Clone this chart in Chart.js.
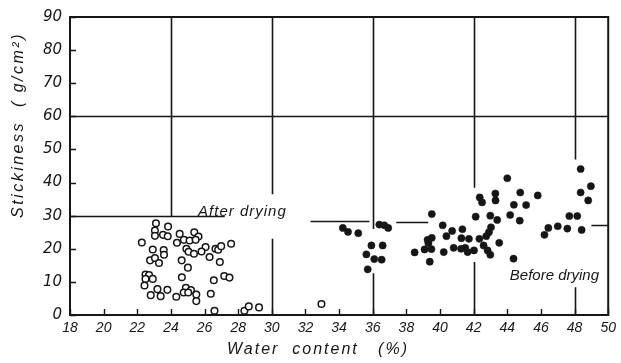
<!DOCTYPE html>
<html>
<head>
<meta charset="utf-8">
<script src="https://cdn.jsdelivr.net/npm/chart.js@4"></script>
<style>
html,body{margin:0;padding:0;background:#fff;}
#wrap{width:621px;height:363px;}
</style>
</head>
<body>
<div id="wrap"><canvas id="c" width="621" height="363"></canvas></div>
<script>
// ---- Data ----
const xTickValues = [18,20,22,24,26,28,30,32,34,36,38,40,42,44,46,48,50];
const yTickValues = [0,10,20,30,40,50,60,70,80,90];

const afterDryingX = [23.11,23.83,23.05,23.05,23.53,23.81,24.52,22.27,24.36,24.77,25.11,25.39,25.64,25.47,26.06,25.82,24.92,25.05,25.37,26.65,26.81,26.99,27.58,22.92,23.57,23.59,22.76,23.05,23.29,24.64,26.30,26.91,25.01,22.49,22.70,22.92,22.49,24.65,27.17,27.48,26.55,22.43,23.20,23.79,24.89,25.19,24.76,25.03,22.80,23.39,24.32,25.51,26.37,25.51,26.59,28.37,28.63,29.24,32.95];
const afterDryingY = [27.7,26.7,25.5,23.9,24.2,23.8,24.5,21.9,21.8,22.7,22.5,25.0,23.7,22.7,20.5,19.2,20.0,19.1,18.5,20.0,19.7,20.8,21.5,19.8,19.6,18.2,16.5,17.2,15.7,16.5,17.5,16.0,14.3,12.2,12.1,10.9,10.9,11.4,11.8,11.3,10.5,8.9,7.8,7.6,8.2,7.5,6.8,6.8,6.0,5.7,5.5,6.2,6.4,4.2,1.3,1.3,2.6,2.3,3.3];

const beforeDryingX = [34.22,34.53,35.14,36.39,36.69,36.92,35.92,36.59,35.62,36.09,36.53,35.70,39.51,40.16,40.38,39.26,39.51,39.08,39.49,38.49,40.22,39.39,39.31,40.72,41.33,41.27,41.72,42.34,42.12,42.36,42.50,43.29,43.30,44.00,44.77,45.81,44.39,45.12,42.99,43.40,44.17,44.74,43.03,42.91,42.75,42.59,42.83,42.99,43.52,42.02,41.64,41.50,41.25,40.81,44.37,46.21,46.44,47.00,47.57,47.69,48.16,48.42,48.36,48.97,48.36,48.81];
const beforeDryingY = [26.3,25.1,24.7,27.3,27.1,26.3,21.0,21.0,18.3,16.9,16.7,13.8,30.5,27.1,23.8,22.7,23.3,19.8,19.9,18.9,19.0,16.1,21.7,25.4,25.9,23.2,23.0,23.0,29.7,35.5,34.0,36.7,34.6,41.3,37.0,36.1,33.3,33.2,30.0,28.7,30.2,28.5,26.5,25.0,23.8,21.0,19.5,18.2,21.8,19.5,19.0,20.3,20.0,20.3,17.0,24.2,26.3,26.8,26.1,29.9,29.9,25.7,44.1,38.9,37.0,34.6];

const seriesLabels = ['After drying', 'Before drying'];
const xTitle = 'Water  content   (%)';
const yTitle = 'Stickiness  ( g/cm\u00B2)';

// ---- Styling / decoration (not data) ----
const INK = '#161616';
const vGrid = [[24,29.8,90],[30,36.5,90],[30,0,23],[36,26,90],[36,0,12.6],[42,38.4,90],[42,0,16],[48,47,90],[48,0,8.4]];
const hGrid = [[60,18,50],[30,18,27.2],[28.5,32.3,35.8],[28.2,37.4,39.3],[27.2,49,50]];
const labelPos = [[28.25,31.2],[46.8,11.7]];

const toPts = (xs, ys) => xs.map((v,i) => ({x:v, y:ys[i]}));

const decor = {
  id: 'decor',
  beforeDatasetsDraw(chart) {
    const {ctx, chartArea:a, scales:{x, y}} = chart;
    ctx.save();
    ctx.strokeStyle = INK;
    ctx.lineCap = 'butt';
    ctx.lineWidth = 1.6;
    ctx.beginPath();
    for (const [xv, y0, y1] of vGrid) {
      const px = Math.round(x.getPixelForValue(xv)) + 0.5;
      ctx.moveTo(px, y.getPixelForValue(y0));
      ctx.lineTo(px, y.getPixelForValue(y1));
    }
    for (const [yv, x0, x1] of hGrid) {
      const py = Math.round(y.getPixelForValue(yv)) + 0.5;
      ctx.moveTo(x.getPixelForValue(x0), py);
      ctx.lineTo(x.getPixelForValue(x1), py);
    }
    ctx.stroke();
    // frame
    ctx.lineWidth = 2;
    ctx.strokeRect(a.left, a.top, a.right - a.left, a.bottom - a.top);
    // inner ticks
    ctx.lineWidth = 1.4;
    ctx.beginPath();
    for (const t of x.ticks) {
      const px = Math.round(x.getPixelForValue(t.value)) + 0.5;
      ctx.moveTo(px, a.bottom);
      ctx.lineTo(px, a.bottom - 6);
    }
    for (const t of y.ticks) {
      const py = Math.round(y.getPixelForValue(t.value)) + 0.5;
      ctx.moveTo(a.left, py);
      ctx.lineTo(a.left + 6, py);
    }
    ctx.stroke();
    ctx.restore();
  },
  afterDatasetsDraw(chart) {
    const {ctx, chartArea:a, scales:{x, y}} = chart;
    ctx.save();
    ctx.fillStyle = INK;
    ctx.textBaseline = 'middle';
    ctx.textAlign = 'center';
    ctx.font = 'italic 15px "Liberation Sans", Arial, sans-serif';
    ctx.letterSpacing = '1px';
    ctx.fillText(seriesLabels[0], x.getPixelForValue(labelPos[0][0]), y.getPixelForValue(labelPos[0][1]));
    ctx.letterSpacing = '0px';
    ctx.fillText(seriesLabels[1], x.getPixelForValue(labelPos[1][0]), y.getPixelForValue(labelPos[1][1]));
    // underline under "After"
    // axis titles
    ctx.font = 'italic 16px "Liberation Sans", Arial, sans-serif';
    ctx.letterSpacing = '2px';
    ctx.fillText(xTitle, 318, 350);
    ctx.translate(19, 125);
    ctx.rotate(-Math.PI / 2);
    ctx.letterSpacing = '2.5px';
    ctx.fillText(yTitle, 0, 0);
    ctx.restore();
  }
};

new Chart(document.getElementById('c'), {
  type: 'scatter',
  data: {
    datasets: [
      {
        label: seriesLabels[0],
        data: toPts(afterDryingX, afterDryingY),
        pointStyle: 'circle',
        pointRadius: 3.3,
        pointBorderWidth: 1.5,
        pointBackgroundColor: '#ffffff',
        pointBorderColor: INK
      },
      {
        label: seriesLabels[1],
        data: toPts(beforeDryingX, beforeDryingY),
        pointStyle: 'circle',
        pointRadius: 3.6,
        pointBorderWidth: 0.5,
        pointBackgroundColor: INK,
        pointBorderColor: INK
      }
    ]
  },
  options: {
    responsive: false,
    animation: false,
    events: [],
    layout: { padding: { top: 15, right: 11, left: 0, bottom: 0 } },
    plugins: { legend: { display: false }, tooltip: { enabled: false } },
    scales: {
      x: {
        type: 'linear', min: 18, max: 50,
        afterBuildTicks: s => { s.ticks = xTickValues.map(v => ({value: v})); },
        afterFit: s => { s.height = 48; },
        grid: { display: false, drawTicks: false },
        border: { display: false },
        ticks: {
          padding: 5, color: INK, maxRotation: 0, autoSkip: false,
          font: { family: '"Liberation Sans", Arial, sans-serif', style: 'italic', size: 14 }
        }
      },
      y: {
        type: 'linear', min: 0, max: 90,
        afterBuildTicks: s => { s.ticks = yTickValues.map(v => ({value: v})); },
        afterFit: s => { s.width = 70; },
        grid: { display: false, drawTicks: false },
        border: { display: false },
        ticks: {
          padding: 8, color: INK, autoSkip: false,
          font: { family: '"DejaVu Sans", sans-serif', style: 'italic', size: 15 }
        }
      }
    }
  },
  plugins: [decor]
});
</script>
</body>
</html>
